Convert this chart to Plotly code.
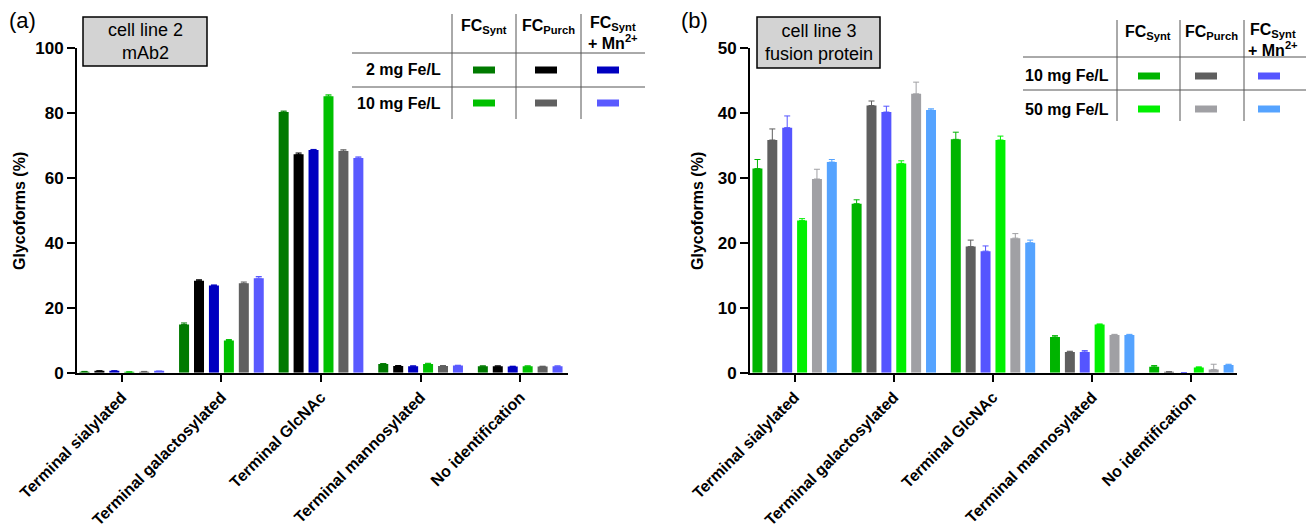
import plotly.graph_objects as go

W, H = 1306, 532

categories = ["Terminal sialylated", "Terminal galactosylated", "Terminal GlcNAc",
              "Terminal mannosylated", "No identification"]

# ---- Panel (a): cell line 2, mAb2 ----
a_synt_2 = [0.3, 14.8, 80.2, 2.7, 2.0]
a_synt_2_err = [0.1, 0.5, 0.3, 0.1, 0.1]
a_purch_2 = [0.5, 28.3, 67.2, 2.1, 2.0]
a_purch_2_err = [0.1, 0.3, 0.4, 0.1, 0.1]
a_mn_2 = [0.5, 26.8, 68.5, 2.0, 1.9]
a_mn_2_err = [0.1, 0.2, 0.2, 0.1, 0.1]
a_synt_10 = [0.2, 9.9, 85.1, 2.7, 2.0]
a_synt_10_err = [0.05, 0.3, 0.4, 0.2, 0.1]
a_purch_10 = [0.3, 27.5, 68.2, 2.1, 1.9]
a_purch_10_err = [0.1, 0.4, 0.4, 0.1, 0.1]
a_mn_10 = [0.4, 29.1, 66.1, 2.2, 2.0]
a_mn_10_err = [0.1, 0.5, 0.3, 0.1, 0.1]
a_colors = ["#007a00", "#000000", "#0000c0", "#00c000", "#606060", "#5a5aff"]
a_rows = ["2 mg Fe/L", "10 mg Fe/L"]

# ---- Panel (b): cell line 3, fusion protein ----
b_synt_10 = [31.4, 26.0, 35.9, 5.5, 0.9]
b_synt_10_err = [1.4, 0.6, 1.1, 0.2, 0.2]
b_purch_10 = [35.8, 41.1, 19.4, 3.2, 0.1]
b_purch_10_err = [1.7, 0.7, 1.0, 0.1, 0.05]
b_mn_10 = [37.7, 40.1, 18.7, 3.2, 0.0]
b_mn_10_err = [1.8, 0.9, 0.8, 0.2, 0.0]
b_synt_50 = [23.4, 32.2, 35.8, 7.4, 0.8]
b_synt_50_err = [0.3, 0.4, 0.6, 0.1, 0.1]
b_purch_50 = [29.8, 42.9, 20.7, 5.8, 0.5]
b_purch_50_err = [1.5, 1.8, 0.7, 0.1, 0.8]
b_mn_50 = [32.4, 40.4, 20.0, 5.8, 1.2]
b_mn_50_err = [0.4, 0.2, 0.4, 0.1, 0.1]
b_colors = ["#00b400", "#5f5f5f", "#5555ff", "#00f000", "#a0a0a4", "#55a3ff"]
b_rows = ["10 mg Fe/L", "50 mg Fe/L"]

col_headers = ["FC<sub>Synt</sub>", "FC<sub>Purch</sub>", "FC<sub>Synt</sub><br>+ Mn<sup>2+</sup>"]

FONT = "Liberation Sans, Arial, sans-serif"


def px(x):
    return x / W


def py(y):
    return 1 - y / H


fig = go.Figure()

a_series = [(a_synt_2, a_synt_2_err), (a_purch_2, a_purch_2_err), (a_mn_2, a_mn_2_err),
            (a_synt_10, a_synt_10_err), (a_purch_10, a_purch_10_err), (a_mn_10, a_mn_10_err)]
b_series = [(b_synt_10, b_synt_10_err), (b_purch_10, b_purch_10_err), (b_mn_10, b_mn_10_err),
            (b_synt_50, b_synt_50_err), (b_purch_50, b_purch_50_err), (b_mn_50, b_mn_50_err)]

for (vals, errs), c in zip(a_series, a_colors):
    fig.add_trace(go.Bar(x=categories, y=vals, marker=dict(color=c, line=dict(width=0)),
                         error_y=dict(type="data", array=errs, arrayminus=[0] * len(errs),
                                      symmetric=False, color=c, thickness=1, width=3),
                         xaxis="x", yaxis="y", showlegend=False))
for (vals, errs), c in zip(b_series, b_colors):
    fig.add_trace(go.Bar(x=categories, y=vals, marker=dict(color=c, line=dict(width=0)),
                         error_y=dict(type="data", array=errs, arrayminus=[0] * len(errs),
                                      symmetric=False, color=c, thickness=1, width=3),
                         xaxis="x2", yaxis="y2", showlegend=False))

ydom = [py(372.7), py(47.7)]
xa = dict(showline=True, linecolor="black", linewidth=2, ticks="outside", ticklen=7,
          tickwidth=2, tickcolor="black", tickangle=-45, showgrid=False, zeroline=False,
          tickfont=dict(family=FONT, size=16, color="black", weight="bold"),
          type="category", automargin=False)
ya = dict(showline=True, linecolor="black", linewidth=2, ticks="outside", ticklen=8,
          tickwidth=2, tickcolor="black", showgrid=False, zeroline=False,
          tickfont=dict(family=FONT, size=17, color="black", weight="bold"),
          automargin=False)

fig.update_layout(
    width=W, height=H, margin=dict(l=0, r=0, t=0, b=0, pad=0, autoexpand=False),
    paper_bgcolor="white", plot_bgcolor="white",
    barmode="group", bargap=0.1, bargroupgap=0.33,
    xaxis=dict(xa, domain=[px(77), px(568)], range=[-0.45, 4.48], anchor="y"),
    yaxis=dict(ya, domain=ydom, range=[0, 100], dtick=20, anchor="x"),
    xaxis2=dict(xa, domain=[px(750), px(1237)], range=[-0.45, 4.46], anchor="y2"),
    yaxis2=dict(ya, domain=ydom, range=[0, 50], dtick=10, anchor="x2"),
)

shapes = []
annotations = []


def text(x, y, t, size=16, bold=True, xanchor="center", yanchor="middle", angle=0):
    annotations.append(dict(x=px(x), y=py(y), xref="paper", yref="paper", text=t,
                            showarrow=False, xanchor=xanchor, yanchor=yanchor,
                            textangle=angle,
                            font=dict(family=FONT, size=size, color="black",
                                      weight="bold" if bold else "normal")))


def line(x0, y0, x1, y1, color="#555555", w=1):
    shapes.append(dict(type="line", xref="paper", yref="paper", x0=px(x0), y0=py(y0),
                       x1=px(x1), y1=py(y1), line=dict(color=color, width=w)))


def rect(x0, y0, x1, y1, fill, lc=None, lw=0):
    shapes.append(dict(type="rect", xref="paper", yref="paper", x0=px(x0), y0=py(y0),
                       x1=px(x1), y1=py(y1), fillcolor=fill,
                       line=dict(color=lc or fill, width=lw)))


# panel labels
text(7, 20, "(a)", size=22, bold=False, xanchor="left")
text(679, 20, "(b)", size=22, bold=False, xanchor="left")

# y-axis titles
text(19, 211, "Glycoforms (%)", size=16, angle=-90)
text(697, 211, "Glycoforms (%)", size=16, angle=-90)

# condition boxes
rect(83, 17, 207, 66, "#d3d3d3", "black", 1.5)
text(145, 41.5, "cell line 2<br>mAb2", size=18, bold=False)
rect(757, 17, 880, 68, "#d3d3d3", "black", 1.5)
text(818.5, 42.5, "cell line 3<br>fusion protein", size=18, bold=False)


def table(vx, ytop, ybot, hy, hx0, hx1, col_c, sw_c, head_y, row_y, label_x, rows, colors):
    for x in vx:
        line(x, ytop, x, ybot)
    for y in hy:
        line(hx0, y, hx1, y)
    for i, h in enumerate(col_headers):
        if i == 2:
            text(col_c[i], head_y + 7, h, size=16)
        else:
            text(col_c[i], head_y, h, size=16)
    for r, (lab, ry) in enumerate(zip(rows, row_y)):
        text(label_x, ry, lab, size=16, xanchor="right")
        for c in range(3):
            col = colors[r * 3 + c]
            rect(sw_c[c] - 11, ry - 3.5, sw_c[c] + 11, ry + 3.5, col)


table([452, 516, 581], 14, 119, [53, 87], 352, 645, [484, 548.5, 613], [484, 546, 608],
      26, [70, 103], 443, a_rows, a_colors)
table([1117, 1180, 1244], 20, 121, [57, 90], 1023, 1306, [1148, 1211, 1273], [1149, 1206, 1269],
      33, [76, 109], 1111, b_rows, b_colors)

fig.update_layout(shapes=shapes, annotations=annotations)

fig.write_html("out.html")
